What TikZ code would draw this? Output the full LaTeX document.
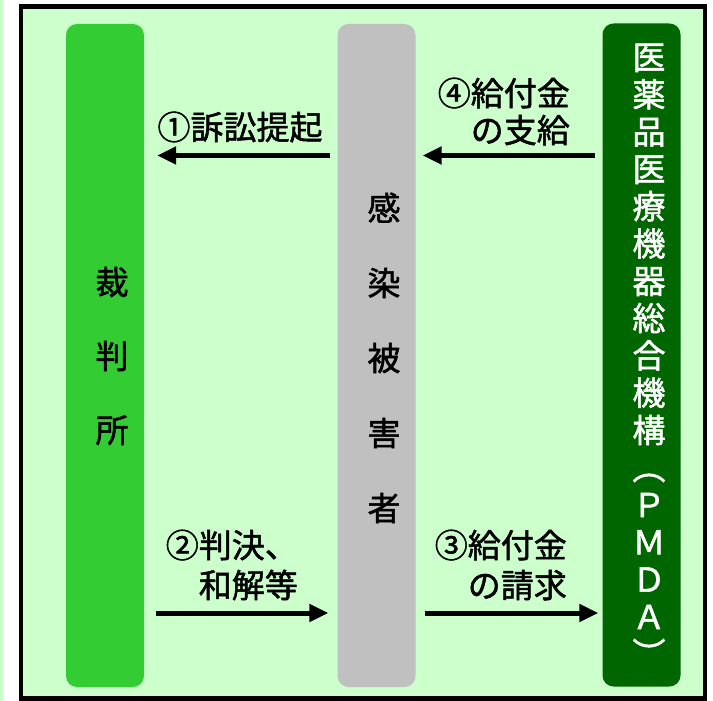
\documentclass[tikz,border=0pt]{standalone}
\usepackage{fontspec}
\usepackage{xcolor}
\usepackage{tikz}
\usetikzlibrary{positioning,calc,arrows.meta}
\newfontfamily\jpfont[FakeBold=1.5]{Noto Sans CJK JP}
\definecolor{bgpale}{HTML}{CCFFCC}
\definecolor{courtgreen}{HTML}{33CC33}
\definecolor{victimgray}{HTML}{C0C0C0}
\definecolor{pmdagreen}{HTML}{006600}

\begin{document}
\begin{tikzpicture}[x=1pt, y=-1pt,
        column/.style={rounded corners=11pt, minimum width=78pt, minimum height=663pt, inner sep=0pt},
        vchar/.style={font=\jpfont\fontsize{33}{33}\selectfont, inner sep=0pt, text height=29pt, text depth=4pt},
        lbltext/.style={font=\jpfont\fontsize{33}{#1}\selectfont, inner sep=0pt},
        flow/.style={line width=5pt, -{Triangle[length=19pt, width=17pt]}}]
        \useasboundingbox (0,0) rectangle (713,701);
        \fill[bgpale] (0,0) rectangle (3,701);
        \draw[line width=4.5pt, fill=bgpale] (21,6.5) rectangle (705,698.5);

        \node[column, fill=courtgreen] (court) at (105,355.5) {};
        \node[column, fill=victimgray] (victim) at (376.5,355.5) {};
        \node[column, fill=pmdagreen] (pmda) at (641.5,355) {};

        \foreach \c [count=\i from 0] in {裁,判,所} {
            \node[vchar] (court-\i) at (112, {282+74*\i}) {\c};
        }
        \foreach \c [count=\i from 0] in {感,染,被,害,者} {
            \node[vchar] (victim-\i) at (384, {208+75*\i}) {\c};
        }
        \foreach \c [count=\i from 0] in {医,薬,品,医,療,機,器,総,合,機,構,︵,Ｐ,Ｍ,Ｄ,Ａ,︶} {
            \node[vchar, text=white] (pmda-\i) at (649, {57+37.3*\i}) {\c};
        }

        \node[lbltext=33] (sue) at (240,127) {①訴訟提起};
        \node[lbltext=37, align=right, anchor=east] (pay) at (570,111.5) {④給付金\\の支給};
        \node[lbltext=40, align=right, anchor=east] (judge) at (298,565) {②判決、\\和解等};
        \node[lbltext=40, align=right, anchor=east] (claim) at (567,565) {③給付金\\の請求};

        \draw[flow, shorten <=7pt, shorten >=13pt] (victim.west |- 0,155.5) -- (court.east |- 0,155.5);
        \draw[flow, shorten <=7pt, shorten >=7pt] (pmda.west |- 0,155.5) -- (victim.east |- 0,155.5);
        \draw[flow, shorten <=12pt, shorten >=9pt] (court.east |- 0,613) -- (victim.west |- 0,613);
        \draw[flow, shorten <=9pt, shorten >=4pt] (victim.east |- 0,613) -- (pmda.west |- 0,613);
    \end{tikzpicture}
\end{document}
